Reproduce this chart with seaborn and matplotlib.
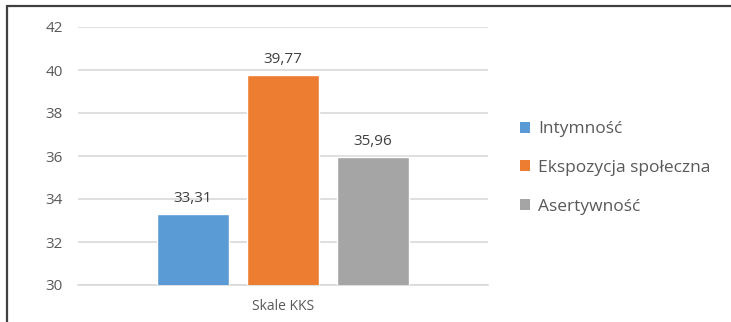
import matplotlib
matplotlib.use("Agg")
import matplotlib.pyplot as plt
from matplotlib.lines import Line2D
from matplotlib.patches import Patch
import seaborn as sns
import pandas as pd

categories = ["Skale KKS"]
series = ["Intymność", "Ekspozycja społeczna", "Asertywność"]
values = [33.31, 39.77, 35.96]
labels = ["33,31", "39,77", "35,96"]
colors = ["#5B9BD5", "#ED7D31", "#A5A5A5"]
yticks = [30, 32, 34, 36, 38, 40, 42]

df = pd.DataFrame({"skala": categories * len(series), "seria": series, "wartosc": values})

sns.set_theme(style="white")
plt.rcParams["font.family"] = ["Open Sans", "DejaVu Sans"]

fig = plt.figure(figsize=(7.31, 3.22), dpi=100)
ax = fig.add_axes([78 / 731, 1 - 285 / 322, 410 / 731, 258 / 322])

sns.barplot(data=df, x="skala", y="wartosc", hue="seria", palette=colors,
            width=0.6585, gap=0.2, ax=ax, legend=False, saturation=1, zorder=3)

ax.set_xlim(-0.5, 0.5)
ax.set_ylim(30, 42)
ax.set_yticks(yticks)
ax.set_yticklabels([str(t) for t in yticks])
ax.yaxis.grid(True, color="#d9d9d9", linewidth=1.2, zorder=0)
ax.set_axisbelow(True)
for s in ["top", "right", "left"]:
    ax.spines[s].set_visible(False)
ax.spines["bottom"].set_color("#d9d9d9")
ax.spines["bottom"].set_linewidth(1.2)
ax.tick_params(axis="y", length=0, pad=11, labelsize=11, labelcolor="#595959")
ax.tick_params(axis="x", length=0, pad=10, labelsize=10, labelcolor="#595959")
ax.set_xlabel("")
ax.set_ylabel("")

for cont, lab in zip(ax.containers, labels):
    ax.bar_label(cont, labels=[lab], padding=6, fontsize=11, color="#404040")

handles = [Patch(facecolor=c, edgecolor="none") for c in colors]
fig.legend(handles, series, loc="center left", bbox_to_anchor=(504 / 731, 1 - 168 / 322),
           frameon=False, fontsize=12.5, handlelength=0.6, handleheight=0.6,
           handletextpad=0.45, labelspacing=1.3, labelcolor="#595959")

fig.add_artist(Line2D([7 / 731, 7 / 731], [0, 1 - 6 / 322], color="#404040", linewidth=1.6,
                      transform=fig.transFigure))
fig.add_artist(Line2D([7 / 731, 1], [1 - 6 / 322, 1 - 6 / 322], color="#404040", linewidth=1.6,
                      transform=fig.transFigure))

fig.savefig("out.png", dpi=100)
